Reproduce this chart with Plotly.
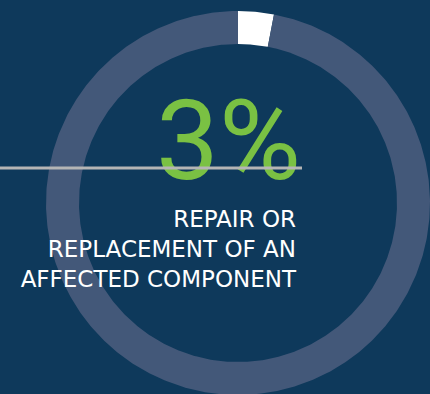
import numpy as np
import plotly.graph_objects as go

# ---- data ----
segment_labels = ["Repair or replacement of an affected component", "Other"]
segment_values = [3, 97]
headline = "3%"
caption_lines = ["REPAIR OR", "REPLACEMENT OF AN", "AFFECTED COMPONENT"]

# ---- style / layout ----
W, H = 430, 394
BG = "#0e395b"
RING = "#435879"
HIGHLIGHT = "#ffffff"
GREEN = "#7ac143"
RULE = "#b5b5b5"
CX, CY = 238, 203
R_OUT, R_IN = 192, 159

fig = go.Figure()

total = sum(segment_values)
start = 0.0
colors = [HIGHLIGHT, RING]
for lab, val, col in zip(segment_labels, segment_values, colors):
    a0 = start / total * 2 * np.pi
    a1 = (start + val) / total * 2 * np.pi
    n = max(8, int(val * 6))
    th = np.linspace(a0, a1, n)
    xo = CX + R_OUT * np.sin(th)
    yo = CY - R_OUT * np.cos(th)
    xi = CX + R_IN * np.sin(th[::-1])
    yi = CY - R_IN * np.cos(th[::-1])
    xs = np.concatenate([xo, xi, xo[:1]])
    ys = np.concatenate([yo, yi, yo[:1]])
    fig.add_trace(go.Scatter(x=xs, y=ys, mode="lines", fill="toself",
                             fillcolor=col, line=dict(width=0, color=col),
                             name=lab, hoverinfo="skip", showlegend=False))
    start += val

# headline percentage
fig.add_trace(go.Scatter(x=[301], y=[151], mode="text", text=[headline],
                         textposition="middle left",
                         textfont=dict(family="Roboto, sans-serif",
                                       size=112, color=GREEN),
                         hoverinfo="skip", showlegend=False))

# rule line across
fig.add_trace(go.Scatter(x=[0, 302], y=[168, 168], mode="lines",
                         line=dict(color=RULE, width=3),
                         hoverinfo="skip", showlegend=False))

# caption
fig.add_trace(go.Scatter(x=[296], y=[251], mode="text",
                         text=["<br>".join(caption_lines)],
                         textposition="middle left",
                         textfont=dict(family="DejaVu Sans, sans-serif", size=23, color="#ffffff"),
                         hoverinfo="skip", showlegend=False))

fig.update_layout(
    width=W, height=H,
    margin=dict(l=0, r=0, t=0, b=0),
    paper_bgcolor=BG, plot_bgcolor=BG,
    xaxis=dict(range=[0, W], visible=False, fixedrange=True),
    yaxis=dict(range=[H, 0], visible=False, fixedrange=True),
    showlegend=False,
)

fig.write_html("out.html", config={"displayModeBar": False},
               post_script="document.body.style.margin='0';document.body.style.background='%s';" % BG)
